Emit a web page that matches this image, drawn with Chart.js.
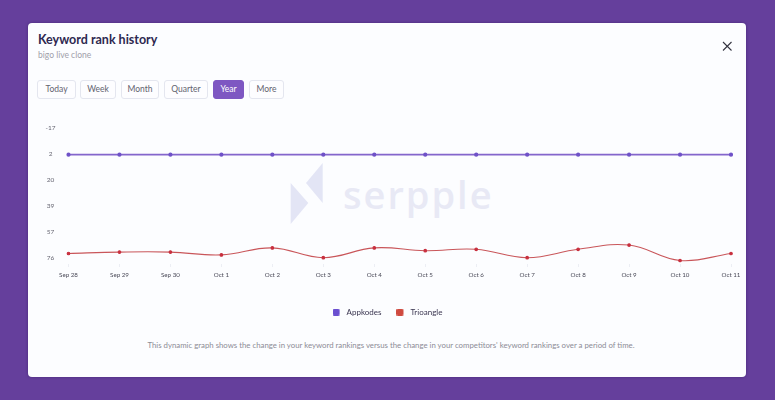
<!DOCTYPE html>
<html><head><meta charset="utf-8">
<script src="https://cdn.jsdelivr.net/npm/chart.js@4"></script>
<style>
html,body{margin:0;padding:0;width:775px;height:400px;overflow:hidden;background:#653f9c;font-family:Lato,sans-serif}
#modal{position:absolute;left:28px;top:23px;width:718px;height:354px;background:#fcfdff;border-radius:4px;box-shadow:0 0 3px rgba(40,20,80,.5)}
.abs{position:absolute;white-space:nowrap}
#title{left:38px;top:32px;font-size:12.5px;font-weight:700;color:#2e2850;line-height:16px}
#sub{left:38px;top:49px;font-size:8.5px;color:#a0a0aa;line-height:12px}
.btn{position:absolute;top:80px;height:19px;box-sizing:border-box;border:1px solid #e4e6ef;border-radius:3px;background:#fdfdff;color:#63636f;font-size:8.5px;line-height:17px;text-align:center}
.btn.on{background:#7e57c2;border-color:#7e57c2;color:#fff}
#wm{left:343px;top:167px;font-size:38px;line-height:54px;font-weight:600;color:#e8e9f5;letter-spacing:2px;font-family:"Open Sans",sans-serif}
#note{left:147px;top:339px;width:488px;text-align:center;font-size:7.8px;line-height:12px;color:#8c8c96}
svg{position:absolute;left:0;top:0}
canvas{position:absolute;left:28px;top:110px}
</style></head><body>
<div id="modal"></div>
<svg width="775" height="400">
<polygon points="290.7,183 308.3,203 290.7,224" fill="#e3e5f5"/>
<polygon points="322.7,163 322.7,203 306,183" fill="#e3e5f5"/>
<line x1="723" y1="42" x2="731.5" y2="50.500" stroke="#33333f" stroke-width="1.100"/>
<line x1="731.500" y1="42" x2="723" y2="50.500" stroke="#33333f" stroke-width="1.100"/>
</svg>
<div class="abs" id="wm">serpple</div>
<div class="abs" id="title">Keyword rank history</div>
<div class="abs" id="sub">bigo live clone</div>
<div class="btn" style="left:37px;width:39px">Today</div>
<div class="btn" style="left:80px;width:36px">Week</div>
<div class="btn" style="left:121px;width:38px">Month</div>
<div class="btn" style="left:164px;width:44px">Quarter</div>
<div class="btn on" style="left:213px;width:31px">Year</div>
<div class="btn" style="left:249px;width:35px">More</div>
<div class="abs" id="note">This dynamic graph shows the change in your keyword rankings versus the change in your competitors' keyword rankings over a period of time.</div>
<canvas id="c" width="730" height="216"></canvas>
<script>
const categories=["Sep 28","Sep 29","Sep 30","Oct 1","Oct 2","Oct 3","Oct 4","Oct 5","Oct 6","Oct 7","Oct 8","Oct 9","Oct 10","Oct 11"];
const appkodes=[2,2,2,2,2,2,2,2,2,2,2,2,2,2];
const trioangle=[72.500,71.500,71.500,73.500,68.500,75.500,68.500,70.500,69.500,75.500,69.500,66.500,77.500,72.500];
const yTicks=[-17,1.6,20.2,38.8,57.4,76];
function swatch(color){
 const k=document.createElement('canvas');k.width=10;k.height=7;
 const g=k.getContext('2d');g.fillStyle=color;g.beginPath();g.roundRect(0,0,7,7,1.5);g.fill();
 return k;
}
new Chart(document.getElementById('c'),{
 type:'line',
 data:{labels:categories,datasets:[
  {label:'Appkodes',data:appkodes,borderColor:'#8466cc',backgroundColor:'#6a4fd0',pointBackgroundColor:'#6f52c8',pointBorderColor:'#6f52c8',borderWidth:1.6,pointRadius:1.3,tension:.4,fill:false},
  {label:'Trioangle',data:trioangle,borderColor:'#c9565a',backgroundColor:'#cf4a3f',pointBackgroundColor:'#c8303f',pointBorderColor:'#c8303f',borderWidth:1.1,pointRadius:1.3,tension:.4,fill:false}
 ]},
 options:{responsive:false,animation:false,devicePixelRatio:1,
  layout:{padding:{top:18,right:27,left:16,bottom:0}},
  plugins:{tooltip:{enabled:false},
   legend:{position:'bottom',labels:{usePointStyle:true,pointStyleWidth:10,boxWidth:10,boxHeight:7,padding:15,color:'#3a3550',font:{family:'Lato',size:8},
     generateLabels(ch){return Chart.defaults.plugins.legend.labels.generateLabels(ch).map((l,i)=>({...l,pointStyle:swatch(ch.data.datasets[i].backgroundColor)}))}}}},
  scales:{
   x:{offset:false,afterFit(a){a.height=29;a.paddingRight=0;a.paddingLeft=0},border:{display:false},
      grid:{drawOnChartArea:false,tickLength:3,color:'#eceef4'},
      ticks:{color:'#4a4a58',font:{family:'Lato',size:6.200},maxRotation:0,autoSkip:false,padding:4}},
   y:{reverse:true,min:-17,max:80,afterFit(a){a.width=24.5},
      afterBuildTicks(a){a.ticks=yTicks.map(v=>({value:v}))},
      border:{display:false},grid:{display:false},
      ticks:{color:'#666672',font:{family:'Lato',size:6.500},crossAlign:'center',padding:5,autoSkip:false,callback:v=>Math.round(v)}}
  }}
});
</script>
</body></html>
